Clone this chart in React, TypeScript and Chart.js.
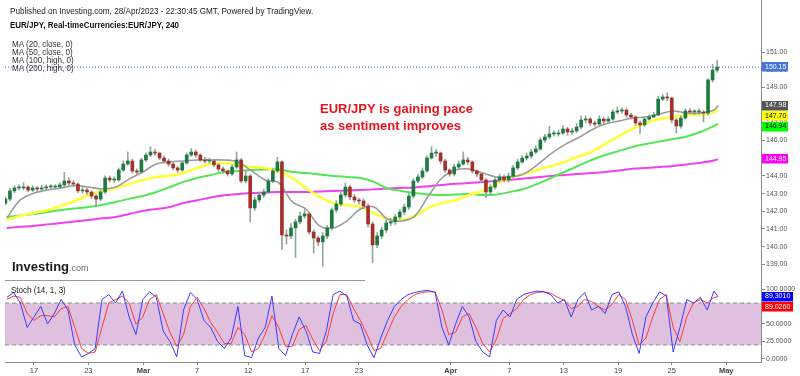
import React, { useEffect, useRef } from 'react';
import { Chart, registerables } from 'chart.js';

Chart.register(...registerables);

const SANS = "'Liberation Sans', Arial, sans-serif";

// ---------- price candles (x in trading days from 17 Feb) ----------
const CANDLE_FIRST_DAY = -2.1;
const CANDLE_STEP = 1 / 3;
const FIRST_OPEN = 142.45;

const closes = [
  142.69, 143.15, 143.32, 143.32, 143.37, 143.2, 143.32, 143.26, 143.32, 143.37,
  143.37, 143.37, 143.49, 143.71, 143.6, 143.54, 143.15, 143.2, 143.09, 142.86,
  142.69, 143.09, 143.88, 143.77, 143.77, 144.33, 144.67, 144.84, 144.28, 144.22,
  144.9, 145.18, 145.35, 145.29, 145.01, 144.84, 144.67, 144.45, 144.33, 144.73,
  145.18, 145.35, 145.18, 144.9, 144.84, 144.84, 144.62, 144.39, 144.28, 144.11,
  144.5, 144.9, 143.71, 143.99, 142.19, 142.64, 142.92, 143.09, 143.71, 144.28,
  144.79, 140.66, 140.6, 141.06, 141.4, 141.73, 141.85, 140.83, 140.49, 140.27,
  140.6, 141.06, 142.07, 142.41, 142.92, 143.37, 142.81, 142.64, 142.58, 142.3,
  141.28, 140.1, 140.6, 140.94, 141.34, 141.4, 141.68, 141.96, 142.24, 142.86,
  143.71, 143.94, 144.28, 145.01, 145.29, 145.29, 144.84, 144.33, 144.11, 144.5,
  144.67, 144.9, 144.79, 144.28, 144.11, 143.77, 143.09, 143.37, 143.77, 143.94,
  143.77, 143.99, 144.45, 144.79, 145.01, 145.12, 145.35, 145.52, 146.03, 146.2,
  146.37, 146.37, 146.42, 146.65, 146.48, 146.54, 146.76, 147.16, 147.21, 146.99,
  146.93, 147.21, 147.1, 147.21, 147.61, 147.67, 147.72, 147.44, 147.33, 146.99,
  146.88, 147.21, 147.33, 147.44, 148.34, 148.46, 148.4, 147.16, 146.82, 147.27,
  147.67, 147.61, 147.61, 147.61, 147.55, 149.42, 149.98, 150.15,
];

const highs = [
  142.8, 143.3, 143.45, 143.5, 143.62, 143.45, 143.45, 143.4, 143.48, 143.5,
  143.52, 143.5, 143.62, 144.2, 143.9, 143.75, 143.6, 143.35, 143.3, 143.15,
  142.95, 143.2, 144.0, 144.0, 143.95, 144.45, 144.85, 145.35, 144.95, 144.4,
  145.0, 145.3, 145.65, 145.5, 145.35, 145.12, 144.95, 144.75, 144.55, 144.85,
  145.3, 145.55, 145.45, 145.25, 145.05, 145.0, 144.92, 144.7, 144.5, 144.35,
  144.62, 145.35, 144.98, 144.3, 144.1, 142.8, 143.05, 143.25, 143.85, 144.4,
  145.05, 144.85, 140.95, 141.3, 141.55, 141.95, 142.1, 141.95, 140.95, 140.6,
  140.8, 141.2, 142.2, 142.6, 143.1, 143.6, 143.45, 142.95, 142.75, 142.7,
  142.4, 141.4, 140.8, 141.1, 141.5, 141.6, 141.85, 142.1, 142.4, 143.0,
  143.85, 144.1, 144.45, 145.15, 145.65, 145.5, 145.35, 144.95, 144.4, 144.65,
  144.85, 145.35, 145.05, 144.85, 144.35, 144.2, 143.85, 143.5, 143.9, 144.1,
  144.05, 144.15, 144.6, 144.95, 145.15, 145.3, 145.5, 145.7, 146.15, 146.35,
  146.8, 146.55, 146.6, 146.85, 146.75, 146.7, 146.95, 147.4, 147.4, 147.3,
  147.1, 147.4, 147.3, 147.35, 147.75, 147.9, 147.85, 147.8, 147.55, 147.4,
  147.1, 147.35, 147.45, 147.6, 148.5, 148.6, 148.7, 148.45, 147.25, 147.4,
  147.8, 147.8, 147.75, 147.78, 147.7, 149.5, 150.3, 150.55,
];

const lows = [
  142.35, 142.6, 143.05, 143.2, 143.22, 143.1, 143.12, 143.15, 143.18, 143.2,
  143.25, 143.24, 143.3, 143.4, 143.48, 143.4, 143.05, 143.02, 142.95, 142.72,
  142.25, 142.6, 143.0, 143.65, 143.62, 143.7, 144.25, 144.6, 144.15, 144.1,
  144.15, 144.82, 145.1, 145.15, 144.9, 144.72, 144.55, 144.35, 144.2, 144.25,
  144.65, 145.1, 145.05, 144.8, 144.72, 144.7, 144.5, 144.25, 144.15, 143.98,
  144.02, 144.42, 143.6, 143.6, 141.4, 142.05, 142.5, 142.8, 143.0, 143.62,
  144.2, 139.85, 140.15, 140.45, 139.4, 141.3, 141.6, 140.7, 139.65, 140.05,
  138.9, 140.45, 140.95, 141.95, 142.3, 142.8, 142.65, 142.5, 142.4, 142.15,
  141.1, 139.1, 139.95, 140.45, 140.8, 141.2, 141.25, 141.55, 141.8, 142.1,
  142.75, 143.6, 143.85, 144.2, 144.95, 145.1, 144.7, 144.2, 143.98, 144.0,
  144.4, 144.6, 144.65, 144.15, 143.95, 143.65, 142.75, 142.95, 143.25, 143.65,
  143.65, 143.65, 143.9, 144.35, 144.7, 144.9, 145.0, 145.25, 145.45, 145.9,
  146.1, 146.25, 146.25, 146.35, 146.3, 146.35, 146.45, 146.65, 147.0, 146.85,
  146.8, 146.85, 146.95, 147.0, 147.15, 147.5, 147.55, 147.3, 147.2, 146.85,
  146.4, 146.8, 147.15, 147.3, 147.4, 148.25, 148.25, 147.0, 146.42, 146.7,
  147.2, 147.5, 147.45, 147.48, 147.05, 147.45, 149.3, 149.85,
];

// ---------- moving averages, one value per trading day (-2 .. 50) plus last bar ----------
const maDays = [
  -2, -1, 0, 1, 2, 3, 4, 5, 6, 7, 8, 9, 10, 11, 12, 13, 14, 15, 16, 17, 18, 19, 20,
  21, 22, 23, 24, 25, 26, 27, 28, 29, 30, 31, 32, 33, 34, 35, 36, 37, 38, 39, 40,
  41, 42, 43, 44, 45, 46, 47, 48, 49, 50, 50.3,
];
const ma20 = [
  141.62, 142.64, 143.03, 143.2, 143.32, 143.46, 143.37, 143.26, 143.37, 143.82,
  144.22, 144.67, 144.79, 144.84, 144.9, 144.9, 144.9, 144.79, 144.28, 143.77,
  143.6, 142.53, 142.13, 141.17, 141.06, 141.45, 142.13, 142.24, 141.56, 141.45,
  141.73, 142.86, 143.88, 144.33, 144.39, 144.16, 143.94, 143.94, 144.11, 144.62,
  145.24, 145.75, 146.14, 146.59, 146.93, 147.1, 147.27, 147.33, 147.5, 147.67,
  147.55, 147.55, 147.72, 147.98,
];
const ma50 = [
  141.51, 141.73, 141.9, 142.07, 142.3, 142.58, 142.92, 143.15, 143.32, 143.54,
  143.77, 143.94, 144.0, 144.16, 144.45, 144.67, 144.73, 144.62, 144.5, 144.45,
  144.22, 143.88, 143.32, 142.81, 142.47, 142.36, 142.24, 141.9, 141.56, 141.51,
  141.73, 142.19, 142.47, 142.64, 142.92, 143.15, 143.54, 143.88, 144.11, 144.33,
  144.56, 144.79, 145.1, 145.35, 145.8, 146.25, 146.65, 146.99, 147.21, 147.33,
  147.44, 147.44, 147.61, 147.7,
];
const ma100 = [
  141.68, 141.76, 141.85, 141.96, 142.07, 142.16, 142.24, 142.36, 142.53, 142.7,
  142.86, 143.09, 143.37, 143.66, 143.88, 144.05, 144.22, 144.28, 144.33, 144.36,
  144.36, 144.22, 144.16, 144.08, 144.0, 143.94, 143.88, 143.66, 143.29, 143.15,
  143.03, 142.95, 142.92, 142.95, 142.98, 142.92, 142.95, 143.09, 143.26, 143.54,
  143.88, 144.22, 144.56, 144.9, 145.18, 145.41, 145.63, 145.8, 145.94, 146.08,
  146.23, 146.48, 146.82, 146.94,
];
const ma200 = [
  141.06, 141.12, 141.17, 141.26, 141.34, 141.42, 141.51, 141.6, 141.68, 141.85,
  142.02, 142.13, 142.24, 142.47, 142.62, 142.78, 142.9, 142.98, 143.03, 143.06,
  143.09, 143.09, 143.09, 143.12, 143.15, 143.18, 143.2, 143.24, 143.29, 143.32,
  143.35, 143.42, 143.49, 143.55, 143.6, 143.66, 143.71, 143.78, 143.85, 143.92,
  144.0, 144.05, 144.11, 144.16, 144.22, 144.3, 144.4, 144.45, 144.5, 144.56,
  144.65, 144.74, 144.87, 144.95,
];

// ---------- stochastic (14,1,3), half-day samples from day -2, plus last bar ----------
const STOCH_FIRST_DAY = -2;
const STOCH_STEP = 0.5;
const LAST_BAR_DAY = 50.3;
const stochK = [
  88, 95, 80, 45, 60, 75, 50, 65, 85, 70,
  20, 3, 8, 15, 85, 92, 80, 97, 60, 35,
  85, 96, 88, 40, 25, 3, 70, 95, 85, 55,
  45, 25, 15, 30, 75, 5, 2, 30, 45, 90,
  15, 5, 35, 60, 40, 10, 8, 40, 92, 97,
  90, 55, 50, 20, 2, 30, 55, 75, 85, 92,
  95, 97, 98, 95, 45, 20, 50, 75, 60, 25,
  10, 3, 55, 70, 60, 85, 92, 95, 97, 96,
  92, 80, 85, 60, 85, 95, 70, 75, 65, 92,
  96, 75, 35, 8, 60, 80, 96, 90, 10, 45,
  85, 80, 88, 70, 97, 89.301,
];
const stochD = [
  85, 90, 88, 65, 55, 62, 62, 60, 72, 75,
  45, 15, 8, 10, 45, 80, 85, 90, 80, 50,
  60, 85, 92, 65, 38, 18, 35, 75, 88, 72,
  52, 38, 22, 22, 45, 35, 10, 15, 35, 62,
  45, 18, 18, 42, 48, 28, 12, 25, 65, 92,
  92, 72, 55, 35, 12, 15, 38, 60, 75, 85,
  92, 95, 96, 96, 70, 35, 38, 60, 65, 45,
  22, 10, 28, 58, 65, 72, 85, 92, 95, 96,
  94, 88, 84, 72, 75, 85, 82, 75, 70, 78,
  92, 85, 55, 20, 30, 60, 85, 92, 45, 25,
  60, 80, 85, 80, 88, 89.026,
];
const stochBand = [20, 80];

// ---------- axes ----------
const X_MIN = -2.13;
const X_MAX = 53.46;
const priceTicks = [139, 140, 141, 142, 143, 144, 145, 146, 147, 148, 149, 150, 151];
const stochTicks = [0, 25, 50, 75, 100];
const dateTickDays = [0, 4, 8.05, 12, 15.75, 19.95, 23.9, 30.65, 34.95, 38.95, 42.95, 46.9, 50.9];
const dateTickLabels = ['17', '23', 'Mar', '7', '12', '17', '23', 'Apr', '7', '13', '19', '25', 'May'];
const monthLabels = ['Mar', 'Apr', 'May'];

const UP = '#1f7a42';
const DOWN = '#a3302a';
const WICK = '#93a89b';
const AXIS = '#8a8a8a';
const TICK_TEXT = '#555';

type Tag = { value: number; bg: string; fg: string; digits: number };

function tagPlugin(id: string, tags: Tag[], boxW: number) {
  return {
    id,
    afterDraw(chart: any) {
      const scale = chart.scales.y;
      const ctx = chart.ctx;
      const H = 9.5;
      const items = tags
        .map((t) => ({ ...t, py: scale.getPixelForValue(t.value) }))
        .sort((a, b) => a.py - b.py);
      let last = -Infinity;
      ctx.save();
      ctx.font = `7px ${SANS}`;
      ctx.textBaseline = 'middle';
      ctx.textAlign = 'left';
      for (const it of items) {
        const y = Math.max(it.py, last + H + 1);
        last = y;
        const x = chart.chartArea.right + 1;
        ctx.fillStyle = it.bg;
        ctx.fillRect(x, Math.round(y - H / 2), boxW, H);
        ctx.fillStyle = it.fg;
        ctx.fillText(it.value.toFixed(it.digits), x + 3, Math.round(y) + 0.5);
      }
      ctx.restore();
    },
  };
}

const separatorPlugin = {
  id: 'separator',
  afterDraw(chart: any) {
    const ctx = chart.ctx;
    ctx.save();
    ctx.strokeStyle = '#9a9a9a';
    ctx.lineWidth = 1;
    ctx.beginPath();
    ctx.moveTo(chart.chartArea.left, chart.height - 0.5);
    ctx.lineTo(365, chart.height - 0.5);
    ctx.stroke();
    ctx.restore();
  },
};

function line(label: string, xs: number[], ys: number[], color: string, width: number, order: number, extra: any = {}) {
  return {
    type: 'line' as const,
    label,
    data: xs.map((x, i) => ({ x, y: ys[i] })),
    borderColor: color,
    backgroundColor: color,
    borderWidth: width,
    pointRadius: 0,
    tension: 0.35,
    order,
    ...extra,
  };
}

const fitY = (s: any) => {
  s.width = 39;
  s.paddingTop = 0;
  s.paddingBottom = 0;
};

export default function App() {
  const priceRef = useRef<HTMLCanvasElement>(null);
  const stochRef = useRef<HTMLCanvasElement>(null);

  useEffect(() => {
    const candleX = closes.map((_, i) => CANDLE_FIRST_DAY + i * CANDLE_STEP);
    const opens = closes.map((_, i) => (i === 0 ? FIRST_OPEN : closes[i - 1]));
    const bodyColors = closes.map((c, i) => (c >= opens[i] ? UP : DOWN));
    const lastClose = closes[closes.length - 1];

    const price = new Chart(priceRef.current!, {
      type: 'bar',
      data: {
        datasets: [
          {
            type: 'bar',
            label: 'bodies',
            data: closes.map((c, i) => ({ x: candleX[i], y: [opens[i], c] })) as any,
            backgroundColor: bodyColors,
            barThickness: 3,
            minBarLength: 1,
            grouped: false,
            order: 0,
          } as any,
          {
            type: 'bar',
            label: 'wicks',
            data: closes.map((_, i) => ({ x: candleX[i], y: [lows[i], highs[i]] })) as any,
            backgroundColor: WICK,
            barThickness: 1,
            grouped: false,
            order: 1,
          } as any,
          line('MA20', maDays, ma20, '#9b9b9b', 1.6, 2),
          line('MA50', maDays, ma50, '#ffff3c', 2.6, 3),
          line('MA100', maDays, ma100, '#55e655', 2, 4),
          line('MA200', maDays, ma200, '#f040f0', 2, 5),
          line('last', [X_MIN, X_MAX], [lastClose, lastClose], '#3a63d8', 1, 6, {
            borderDash: [1, 2],
            tension: 0,
          }),
        ],
      },
      options: {
        responsive: false,
        animation: false,
        devicePixelRatio: 1,
        events: [],
        layout: { padding: { left: 5, right: 0, top: 0, bottom: 0 } },
        plugins: { legend: { display: false }, tooltip: { enabled: false } },
        scales: {
          x: { type: 'linear', min: X_MIN, max: X_MAX, offset: false, display: false },
          y: {
            type: 'linear',
            position: 'right',
            min: 138.06,
            max: 153.94,
            afterFit: fitY,
            afterBuildTicks: (s: any) => {
              s.ticks = priceTicks.map((v) => ({ value: v }));
            },
            ticks: {
              autoSkip: false,
              padding: 1,
              color: TICK_TEXT,
              font: { family: SANS, size: 7 },
              callback: (v: any) => Number(v).toFixed(2),
            },
            grid: { drawOnChartArea: false, drawTicks: true, tickLength: 4, color: AXIS },
            border: { display: true, color: AXIS },
          },
        },
      } as any,
      plugins: [
        separatorPlugin,
        tagPlugin(
          'priceTags',
          [
            { value: lastClose, bg: '#4676dc', fg: '#ffffff', digits: 2 },
            { value: ma20[ma20.length - 1], bg: '#555555', fg: '#ffffff', digits: 2 },
            { value: ma50[ma50.length - 1], bg: '#ffff00', fg: '#000000', digits: 2 },
            { value: ma100[ma100.length - 1], bg: '#00ff00', fg: '#000000', digits: 2 },
            { value: ma200[ma200.length - 1], bg: '#ff00ff', fg: '#ffffff', digits: 2 },
          ],
          26
        ),
      ],
    });

    const stochX = stochK.map((_, i) =>
      i === stochK.length - 1 ? LAST_BAR_DAY : STOCH_FIRST_DAY + i * STOCH_STEP
    );

    const stoch = new Chart(stochRef.current!, {
      type: 'line',
      data: {
        datasets: [
          line('upper', [X_MIN, X_MAX], [stochBand[1], stochBand[1]], '#8c8c8c', 1, 5, {
            borderDash: [4, 3],
            tension: 0,
            fill: '+1',
            backgroundColor: '#dfc1df',
          }),
          line('lower', [X_MIN, X_MAX], [stochBand[0], stochBand[0]], '#8c8c8c', 1, 4, {
            borderDash: [4, 3],
            tension: 0,
          }),
          line('%D', stochX, stochD, '#ff3b3b', 1, 1, { tension: 0 }),
          line('%K', stochX, stochK, '#3b3bff', 1, 0, { tension: 0 }),
        ],
      },
      options: {
        responsive: false,
        animation: false,
        devicePixelRatio: 1,
        events: [],
        layout: { padding: { left: 5, right: 0, top: 0, bottom: 0 } },
        plugins: { legend: { display: false }, tooltip: { enabled: false } },
        scales: {
          x: {
            type: 'linear',
            min: X_MIN,
            max: X_MAX,
            offset: false,
            afterFit: (s: any) => {
              s.height = 14;
              s.paddingLeft = 0;
              s.paddingRight = 0;
            },
            afterBuildTicks: (s: any) => {
              s.ticks = dateTickDays.map((v) => ({ value: v }));
            },
            ticks: {
              autoSkip: false,
              maxRotation: 0,
              padding: 1,
              color: '#444',
              font: (ctx: any) => ({
                family: SANS,
                size: 7.5,
                weight: monthLabels.includes(dateTickLabels[ctx.index]) ? 'bold' : 'normal',
              }),
              callback: (_v: any, i: number) => dateTickLabels[i],
            },
            grid: { drawOnChartArea: false, drawTicks: true, tickLength: 3, color: AXIS },
            border: { display: true, color: AXIS },
          },
          y: {
            type: 'linear',
            position: 'right',
            min: -4.29,
            max: 111.43,
            afterFit: fitY,
            afterBuildTicks: (s: any) => {
              s.ticks = stochTicks.map((v) => ({ value: v }));
            },
            ticks: {
              autoSkip: false,
              padding: 1,
              color: TICK_TEXT,
              font: { family: SANS, size: 7 },
              callback: (v: any) => Number(v).toFixed(4),
            },
            grid: { drawOnChartArea: false, drawTicks: true, tickLength: 4, color: AXIS },
            border: { display: true, color: AXIS },
          },
        },
      } as any,
      plugins: [
        tagPlugin(
          'stochTags',
          [
            { value: stochK[stochK.length - 1], bg: '#0000ff', fg: '#ffffff', digits: 4 },
            { value: stochD[stochD.length - 1], bg: '#ff0000', fg: '#ffffff', digits: 4 },
          ],
          31
        ),
      ],
    });

    return () => {
      price.destroy();
      stoch.destroy();
    };
  }, []);

  const abs = (top: number, left: number, scale: number, extra: React.CSSProperties = {}): React.CSSProperties => ({
    position: 'absolute',
    top,
    left,
    whiteSpace: 'nowrap',
    pointerEvents: 'none',
    transform: `scaleX(${scale})`,
    transformOrigin: 'left top',
    ...extra,
  });

  return (
    <div
      style={{
        position: 'fixed',
        left: 0,
        top: 0,
        width: 800,
        height: 376,
        background: '#ffffff',
        overflow: 'hidden',
      }}
    >
      <canvas ref={priceRef} width={800} height={281} style={{ position: 'absolute', left: 0, top: 0, display: 'block' }} />
      <canvas ref={stochRef} width={800} height={95} style={{ position: 'absolute', left: 0, top: 281, display: 'block' }} />

      <div style={abs(7.4, 10, 0.905, { font: `9px ${SANS}`, lineHeight: '9px', color: '#222' })}>
        Published on Investing.com, 28/Apr/2023 - 22:30:45 GMT, Powered by TradingView.
      </div>
      <div style={abs(21, 10, 0.887, { font: `bold 9px ${SANS}`, lineHeight: '9px', color: '#111' })}>
        EUR/JPY, Real-timeCurrencies:EUR/JPY, 240
      </div>
      <div style={abs(39.7, 12, 0.9, { font: `9px ${SANS}`, lineHeight: '8px', color: '#333' })}>
        <div>MA (20, close, 0)</div>
        <div>MA (50, close, 0)</div>
        <div>MA (100, high, 0)</div>
        <div>MA (200, high, 0)</div>
      </div>

      <div style={abs(99.8, 320, 1, { font: `bold 13px ${SANS}`, lineHeight: '17px', color: '#e8141c' })}>
        <div>EUR/JPY is gaining pace</div>
        <div>as sentiment improves</div>
      </div>

      <div style={abs(260, 12, 1, { font: `bold 13px ${SANS}`, lineHeight: '13px', color: '#1a1a1a' })}>
        Investing<span style={{ font: `9px ${SANS}`, color: '#666' }}>.com</span>
      </div>

      <div style={abs(286.4, 11, 0.89, { font: `9px ${SANS}`, lineHeight: '9px', color: '#222' })}>
        Stoch (14, 1, 3)
      </div>
    </div>
  );
}
